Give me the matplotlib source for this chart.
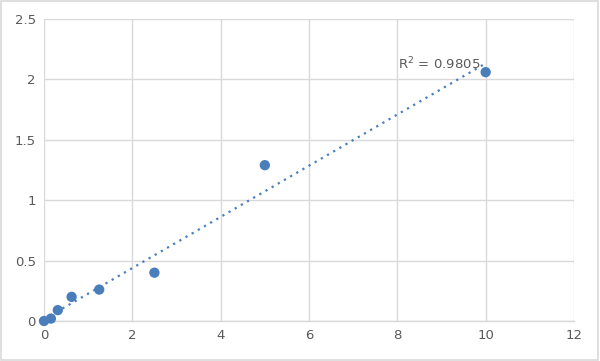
import numpy as np
import matplotlib
matplotlib.use("Agg")
import matplotlib.pyplot as plt

x_vals = [0, 0.156, 0.3125, 0.625, 1.25, 2.5, 5, 10]
y_vals = [0.0, 0.02, 0.09, 0.20, 0.26, 0.40, 1.29, 2.06]
x_ticks = [0, 2, 4, 6, 8, 10, 12]
y_ticks = [0, 0.5, 1, 1.5, 2, 2.5]
y_labels = ["0", "0.5", "1", "1.5", "2", "2.5"]
r2_label = "R$^2$ = 0.9805"

fig = plt.figure(figsize=(6.0, 3.61), dpi=100)
fig.patch.set_facecolor("white")
ax = fig.add_axes([44/600, 1-321/361, 530/600, 302/361])

color = "#4a7ebb"
coef = np.polyfit(x_vals, y_vals, 1)
xs = np.linspace(min(x_vals), max(x_vals), 200)
ax.plot(xs, np.polyval(coef, xs), linestyle=(0, (1, 2.2)), color=color, linewidth=1.6, zorder=2)
ax.scatter(x_vals, y_vals, s=55, color=color, zorder=3, edgecolors="none", clip_on=False)

ax.set_xlim(0, 12)
ax.set_ylim(0, 2.5)
ax.set_xticks(x_ticks)
ax.set_yticks(y_ticks)
ax.set_yticklabels(y_labels)
ax.grid(True, color="#d9d9d9", linewidth=1)
ax.set_axisbelow(True)
for s in ["top", "right", "left"]:
    ax.spines[s].set_visible(False)
ax.spines["bottom"].set_color("#d9d9d9")
ax.spines["bottom"].set_linewidth(1)
ax.tick_params(length=0, labelsize=9.5, colors="#595959", pad=6)

ax.text(8.02, 2.13, r2_label, fontsize=9.5, color="#595959", va="center", ha="left")

border = plt.Rectangle((0.002, 0.003), 0.995, 0.994, transform=fig.transFigure,
                       fill=False, edgecolor="#d9d9d9", linewidth=1.2)
fig.add_artist(border)

fig.savefig("out.png", dpi=100)
